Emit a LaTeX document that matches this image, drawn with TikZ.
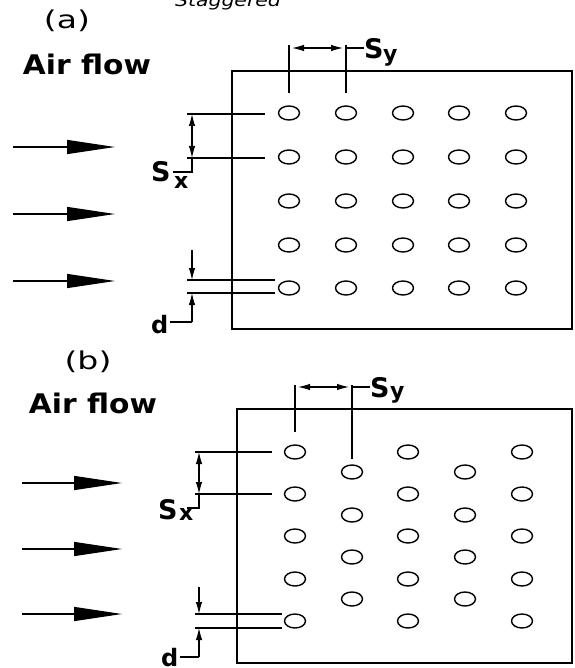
\documentclass[tikz,border=0pt]{standalone}
\usepackage{graphicx}
\usepackage{fontspec}
\setsansfont{DejaVu Sans}
\usetikzlibrary{arrows.meta,shapes.geometric}
\begin{document}
\begin{tikzpicture}[x=1pt,y=-1pt,
  tube/.style={draw,ellipse,minimum width=21pt,minimum height=14pt,inner sep=0pt,line width=1.4pt},
  frame/.style={line width=1.4pt},
  ext/.style={line width=1.1pt},
  dim/.style={line width=1.1pt,{Latex[length=12pt,width=6.5pt]}-{Latex[length=12pt,width=6.5pt]}},
  dimone/.style={line width=1.1pt,-{Latex[length=12pt,width=6.5pt]}},
  flow/.style={line width=1.3pt,-{Triangle[length=48pt,width=14pt]}},
  big/.style={inner sep=0pt,font=\fontsize{27}{27}\selectfont\bfseries\sffamily},
  sub/.style={inner sep=0pt,font=\fontsize{22}{22}\selectfont\bfseries\sffamily},
  title/.style={inner sep=0pt,font=\fontsize{24.5}{25}\selectfont\sffamily},
  air/.style={inner sep=0pt,font=\fontsize{27}{27}\selectfont\bfseries\sffamily},
]
\useasboundingbox (0,0) rectangle (574,668);

% caption cut at the top
\node[anchor=base,inner sep=0pt] (stag) at (228,7) {\fontsize{17}{17}\selectfont\itshape\sffamily\scalebox{1.2}[1]{Staggered}};

% ================= (a) =================
\node[title,anchor=base] (ta) at (67,29) {\scalebox{1.35}[1]{(a)}};
\node[air,anchor=base] (afa) at (87,75) {\scalebox{1.1}[1]{Air flow}};

\draw[frame] (232,71) rectangle (572,329);

\foreach \i/\x in {1/289,2/346,3/403,4/459,5/516}{
  \foreach \j/\y in {1/113,2/157,3/201,4/245,5/288}{
    \node[tube] (a\i\j) at (\x,\y) {};
  }
}

% air flow arrows (a)
\foreach \k/\y in {1/147,2/214,3/281}{
  \coordinate (fas\k) at (13,\y);
  \coordinate (fae\k) at (115,\y);
  \draw[flow] (fas\k) -- (fae\k);
}

% Sy (a)
\coordinate (sya1t) at (289,45); \coordinate (sya1b) at (289,93);
\coordinate (sya2t) at (346,45); \coordinate (sya2b) at (346,93);
\coordinate (syal) at (289,48); \coordinate (syar) at (346,48); \coordinate (syae) at (364,48);
\draw[ext] (sya1t) -- (sya1b);
\draw[ext] (sya2t) -- (sya2b);
\draw[dim,shorten <=3pt,shorten >=3pt] (syal) -- (syar);
\draw[ext] (syar) -- (syae);
\node[big,anchor=base west] (syaS) at (364,59) {S};
\node[sub,anchor=base west] (syay) at (383,62) {y};

% Sx (a)
\coordinate (sxa1l) at (187,114); \coordinate (sxa1r) at (265,114);
\coordinate (sxa2l) at (187,158); \coordinate (sxa2r) at (265,158);
\coordinate (sxat) at (192,114); \coordinate (sxab) at (192,158);
\coordinate (sxak) at (192,172); \coordinate (sxae) at (173,172);
\draw[ext] (sxa1l) -- (sxa1r);
\draw[ext] (sxa2l) -- (sxa2r);
\draw[dim] (sxat) -- (sxab);
\draw[ext] (sxab) -- (sxak) -- (sxae);
\node[big,anchor=base west] (sxaS) at (151,182) {S};
\node[sub,anchor=base west] (sxax) at (174,189) {x};

% d (a)
\coordinate (da1l) at (187,280); \coordinate (da1r) at (275,280);
\coordinate (da2l) at (187,293); \coordinate (da2r) at (275,293);
\coordinate (dat0) at (192,250); \coordinate (dat) at (192,280);
\coordinate (dab0) at (192,322); \coordinate (dab) at (192,293);
\coordinate (dae) at (170,322);
\draw[ext] (da1l) -- (da1r);
\draw[ext] (da2l) -- (da2r);
\draw[dimone] (dat0) -- (dat);
\draw[dimone] (dab0) -- (dab);
\draw[ext] (dab0) -- (dae);
\node[big,anchor=base west,font=\fontsize{24}{24}\selectfont\bfseries\sffamily] (dalab) at (151,333) {d};

% ================= (b) =================
\node[title,anchor=base] (tb) at (88,369) {\scalebox{1.35}[1]{(b)}};
\node[air,anchor=base] (afb) at (93,413) {\scalebox{1.1}[1]{Air flow}};

\draw[frame] (237,409) rectangle (572,663);

\foreach \i/\x in {1/295,3/408,5/522}{
  \foreach \j/\y in {1/452,2/494,3/536,4/579,5/621}{
    \node[tube] (b\i\j) at (\x,\y) {};
  }
}
\foreach \i/\x in {2/352,4/465}{
  \foreach \j/\y in {1/472,2/515,3/557,4/599}{
    \node[tube] (b\i\j) at (\x,\y) {};
  }
}

% air flow arrows (b)
\foreach \k/\y in {1/483,2/549,3/614}{
  \coordinate (fbs\k) at (22,\y);
  \coordinate (fbe\k) at (122,\y);
  \draw[flow] (fbs\k) -- (fbe\k);
}

% Sy (b)
\coordinate (syb1t) at (295,385); \coordinate (syb1b) at (295,432);
\coordinate (syb2t) at (352,385); \coordinate (syb2b) at (352,459);
\coordinate (sybl) at (295,387); \coordinate (sybr) at (352,387); \coordinate (sybe) at (370,387);
\draw[ext] (syb1t) -- (syb1b);
\draw[ext] (syb2t) -- (syb2b);
\draw[dim,shorten <=3pt,shorten >=3pt] (sybl) -- (sybr);
\draw[ext] (sybr) -- (sybe);
\node[big,anchor=base west] (sybS) at (370,397) {S};
\node[sub,anchor=base west] (syby) at (390,398) {y};

% Sx (b)
\coordinate (sxb1l) at (195,452); \coordinate (sxb1r) at (272,452);
\coordinate (sxb2l) at (195,494); \coordinate (sxb2r) at (272,494);
\coordinate (sxbt) at (199,452); \coordinate (sxbb) at (199,494);
\coordinate (sxbk) at (199,508); \coordinate (sxbe) at (187,508);
\draw[ext] (sxb1l) -- (sxb1r);
\draw[ext] (sxb2l) -- (sxb2r);
\draw[dim] (sxbt) -- (sxbb);
\draw[ext] (sxbb) -- (sxbk) -- (sxbe);
\node[big,anchor=base west] (sxbS) at (158,519) {S};
\node[sub,anchor=base west] (sxbx) at (179,520) {x};

% d (b)
\coordinate (db1l) at (195,614); \coordinate (db1r) at (282,614);
\coordinate (db2l) at (195,628); \coordinate (db2r) at (282,628);
\coordinate (dbt0) at (199,587); \coordinate (dbt) at (199,614);
\coordinate (dbb0) at (199,657); \coordinate (dbb) at (199,628);
\coordinate (dbe) at (180,657);
\draw[ext] (db1l) -- (db1r);
\draw[ext] (db2l) -- (db2r);
\draw[dimone] (dbt0) -- (dbt);
\draw[dimone] (dbb0) -- (dbb);
\draw[ext] (dbb0) -- (dbe);
\node[big,anchor=base west,font=\fontsize{24}{24}\selectfont\bfseries\sffamily] (dblab) at (161,666) {d};

\end{tikzpicture}
\end{document}
